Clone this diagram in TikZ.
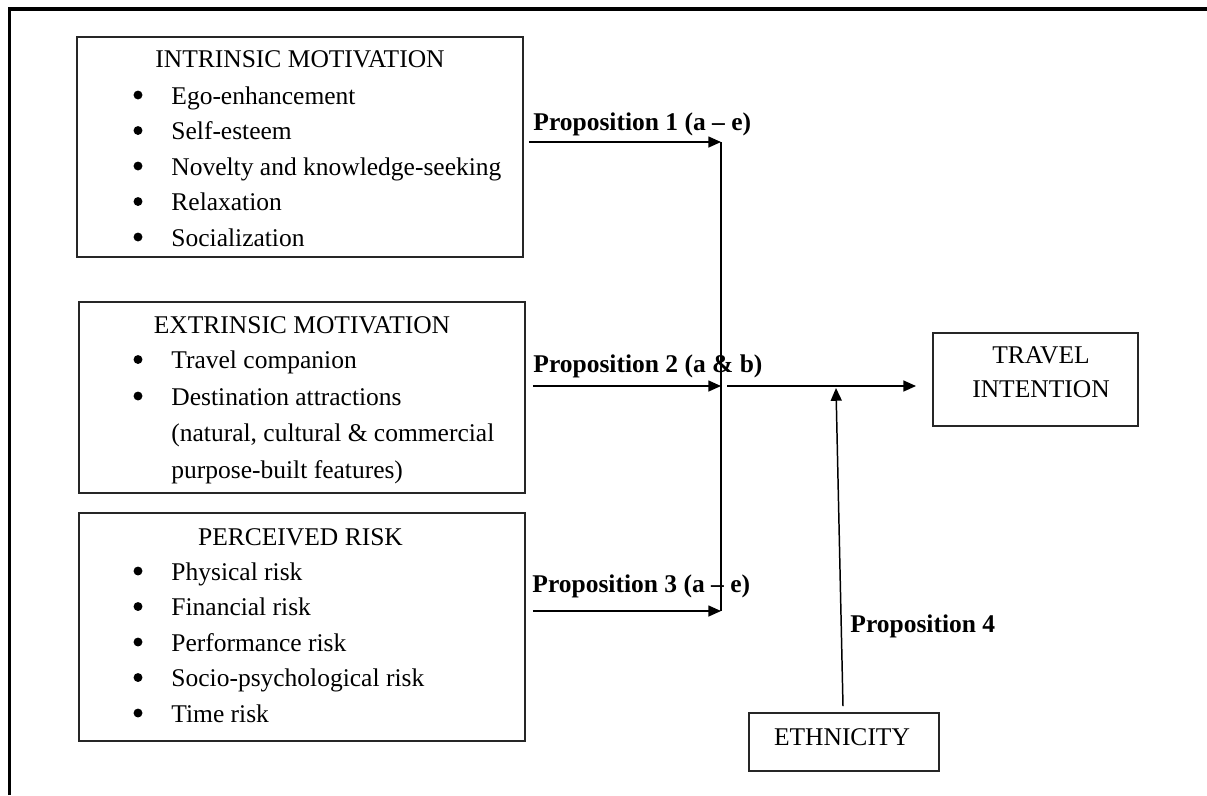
\documentclass[tikz,border=0pt]{standalone}
\usepackage{fontspec}
\setmainfont{Liberation Serif}
\usetikzlibrary{arrows.meta,fit,calc}
\begin{document}
\begin{tikzpicture}[x=0.4706pt,y=-0.4706pt,
  box/.style={draw=black!85, line width=0.9pt, inner sep=0pt, rectangle},
  txt/.style={inner sep=0pt, font=\fontsize{12pt}{14pt}\selectfont},
  bul/.style={circle, fill=black, inner sep=0pt, minimum size=4.2pt},
  lbl/.style={inner sep=0pt, font=\fontsize{12pt}{14pt}\selectfont\bfseries, anchor=base west},
  arr/.style={line width=0.7pt, -{Triangle[length=6pt,width=5.2pt]}},
  conn/.style={line width=0.7pt}]
\useasboundingbox (0,0) rectangle (1207,795);
\draw[line width=1.5pt] (9.5,795) -- (9.5,9) -- (1207,9);

\newcommand\bitem[3]{%
  \node[bul] (#1b) at (138,#2-9) {};
  \node[txt, anchor=base west] (#1) at (171,#2) {#3};}
\newcommand\pitem[3]{%
  \node[txt, anchor=base west] (#1) at (171,#2) {#3};}

% Intrinsic motivation
\node[box, fit={(77,37) (523,257)}] (im) {};
\node[txt, anchor=base] (imt) at (300,67) {INTRINSIC MOTIVATION};
\bitem{ima}{104}{Ego-enhancement}
\bitem{imb}{139.5}{Self-esteem}
\bitem{imc}{175}{Novelty and knowledge-seeking}
\bitem{imd}{210.5}{Relaxation}
\bitem{ime}{246}{Socialization}

% Extrinsic motivation
\node[box, fit={(79,302) (525,493)}] (em) {};
\node[txt, anchor=base] (emt) at (302,333) {EXTRINSIC MOTIVATION};
\bitem{ema}{368.5}{Travel companion}
\bitem{emb}{405}{Destination attractions}
\pitem{emc}{441.5}{(natural, cultural \& commercial}
\pitem{emd}{478}{purpose-built features)}

% Perceived risk
\node[box, fit={(79,513) (525,741)}] (pr) {};
\node[txt, anchor=base] (prt) at (300.5,545) {PERCEIVED RISK};
\bitem{pra}{580}{Physical risk}
\bitem{prb}{615.5}{Financial risk}
\bitem{prc}{651}{Performance risk}
\bitem{prd}{686.5}{Socio-psychological risk}
\bitem{pre}{722}{Time risk}

% Travel intention
\node[box, fit={(933,333) (1138,426)}] (ti) {};
\node[txt, anchor=base] (tia) at (1041,363) {TRAVEL};
\node[txt, anchor=base] (tib) at (1041,397) {INTENTION};

% Ethnicity
\node[box, fit={(749,713) (939,771)}] (eth) {};
\node[txt, anchor=base] (etht) at (842,745) {ETHNICITY};

% junction
\coordinate (j1) at (721,142);
\coordinate (j2) at (721,386);
\coordinate (j3) at (721,611);
\coordinate (p4) at (836,388);
\draw[conn] (j1) -- (j3);

\draw[arr] ($(im.east |- j1)+(5,0)$) -- (j1);
\draw[arr] ($(em.east |- j2)+(7,0)$) -- (j2);
\draw[arr] ($(pr.east |- j3)+(7,0)$) -- (j3);
\draw[arr] ($(j2)+(6,0)$) -- ($(ti.west |- j2)+(-16,0)$);
\draw[arr] ($(eth.north)+(-1,-6)$) -- (p4);

\node[lbl] (l1) at (533,130) {Proposition 1 (a -- e)};
\node[lbl] (l2) at (533,372) {Proposition 2 (a \& b)};
\node[lbl] (l3) at (532,592) {Proposition 3 (a -- e)};
\node[lbl] (l4) at (850,632) {Proposition 4};
\end{tikzpicture}
\end{document}
